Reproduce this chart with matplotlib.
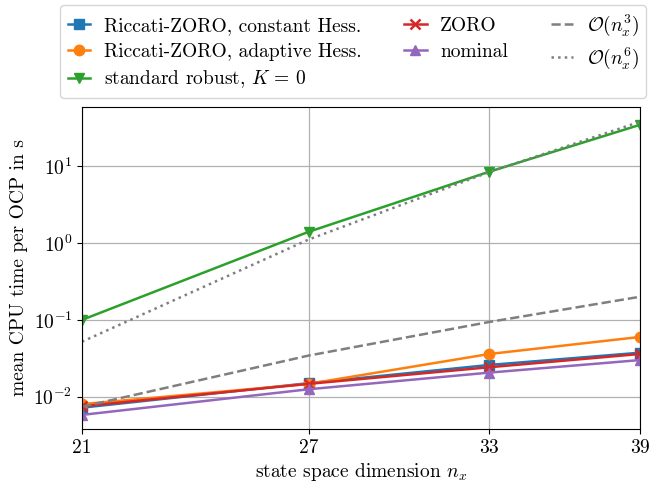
import matplotlib
matplotlib.use("Agg")
import matplotlib.pyplot as plt
from matplotlib.ticker import NullLocator, NullFormatter

plt.rcParams['font.family'] = ['cmr10', 'DejaVu Serif']
plt.rcParams['mathtext.fontset'] = 'cm'
plt.rcParams['axes.formatter.use_mathtext'] = True
plt.rcParams['font.size'] = 14

nx = [21, 27, 33, 39]
riccati_const = [0.0072, 0.0150, 0.0259, 0.0374]
riccati_adapt = [0.0080, 0.0147, 0.0360, 0.0600]
standard_robust = [0.100, 1.40, 8.5, 34.6]
zoro = [0.0075, 0.0147, 0.0242, 0.0360]
nominal = [0.0058, 0.0125, 0.0206, 0.0300]
ref_n3 = [0.0074, 0.0343, 0.094, 0.200]
ref_n6 = [0.052, 1.11, 8.4, 37.9]
xticks = [21, 27, 33, 39]

fig = plt.figure(figsize=(6.52, 4.82), dpi=100)
ax = fig.add_axes([82/652, 1-429/482, (640-82)/652, (429-107)/482])

lw = 1.8
ms = 7.5
ax.plot(nx, riccati_const, '-s', color='tab:blue', lw=lw, ms=ms, label='Riccati-ZORO, constant Hess.')
ax.plot(nx, riccati_adapt, '-o', color='tab:orange', lw=lw, ms=ms, label='Riccati-ZORO, adaptive Hess.')
ax.plot(nx, standard_robust, '-v', color='tab:green', lw=lw, ms=ms, label=r'standard robust, $K\,=\,0$')
ax.plot(nx, zoro, '-x', color='tab:red', lw=lw, ms=ms, mew=1.8, label='ZORO')
ax.plot(nx, nominal, '-^', color='tab:purple', lw=lw, ms=ms, label='nominal')
ax.plot(nx, ref_n3, '--', color='tab:gray', lw=lw, label=r'$\mathcal{O}(n_x^3)$')
ax.plot(nx, ref_n6, ':', color='tab:gray', lw=lw, label=r'$\mathcal{O}(n_x^6)$')

ax.set_xscale('log')
ax.set_yscale('log')
ax.set_xlim(21, 39)
ax.set_ylim(0.0038, 59)
ax.set_xticks(xticks)
ax.set_xticklabels([str(t) for t in xticks])
ax.xaxis.set_minor_locator(NullLocator())
ax.xaxis.set_minor_formatter(NullFormatter())
ax.yaxis.set_minor_locator(NullLocator())
ax.grid(True, color='#b0b0b0', lw=0.9)
ax.set_xlabel('state space dimension $n_x$', labelpad=3)
ax.set_ylabel('mean CPU time per OCP in s')

fig.legend(loc='upper left', bbox_to_anchor=(60/652, 1-5/482), ncol=3,
           fontsize=14, columnspacing=2.2, handlelength=1.15, handletextpad=0.7,
           borderaxespad=0, labelspacing=0.4)

fig.savefig('out.png', dpi=100)
